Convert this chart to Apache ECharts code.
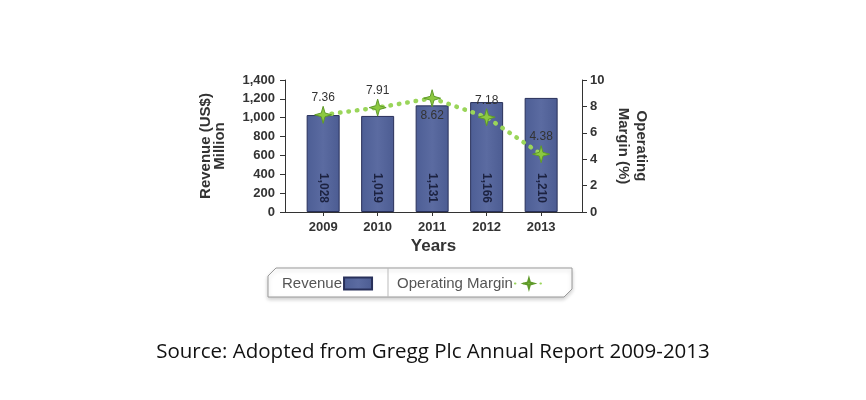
<!DOCTYPE html>
<html>
<head>
    <meta charset="utf-8">
    <title>Revenue and Operating Margin</title>
    <script src="https://cdn.jsdelivr.net/npm/echarts@6/dist/echarts.min.js"></script>
    <style>
        html, body { margin: 0; padding: 0; background: #fff; }
        #chart1 { width: 866px; height: 400px; }
    </style>
</head>
<body>
<div id="chart1"></div>
<script type="text/javascript">
    // data
    var years = [2009, 2010, 2011, 2012, 2013];
    var revenue = [1028, 1019, 1131, 1166, 1210];
    var margin = [7.36, 7.91, 8.62, 7.18, 4.38];
    // label placement of the margin values (above / below the point)
    var marginLabelPos = ['top', 'top', 'bottom', 'top', 'top'];

    var star = 'path://M0,-10 L2.2,-2.2 L10,0 L2.2,2.2 L0,10 L-2.2,2.2 L-10,0 L-2.2,-2.2 Z';
    var font = 'Liberation Sans';

    function fmt(v) {
        return String(v).replace(/\B(?=(\d{3})+(?!\d))/g, ',');
    }

    var barData = years.map(function (y, i) { return [y, revenue[i]]; });
    var lineData = years.map(function (y, i) {
        return {
            value: [y, margin[i]],
            label: { position: marginLabelPos[i] }
        };
    });

    var myChart = echarts.init(document.getElementById('chart1'));
    myChart.setOption({
        animation: false,
        textStyle: { fontFamily: font },
        grid: { left: 285, right: 284, top: 80, bottom: 188 },
        title: {
            text: 'Source: Adopted from Gregg Plc Annual Report 2009-2013',
            left: 'center',
            top: 337,
            textStyle: { fontFamily: 'Open Sans', fontSize: 20.5, fontWeight: 'normal', color: '#111' }
        },
        graphic: [
            {
                type: 'polygon',
                z: -1,
                shape: { points: [[276, 268], [572, 268], [572, 289], [564, 297], [268, 297], [268, 276]] },
                style: { fill: '#fff', stroke: '#9a9a9a', lineWidth: 1, shadowBlur: 4, shadowColor: 'rgba(0,0,0,0.2)', shadowOffsetY: 2 }
            },
            {
                type: 'line',
                z: -1,
                shape: { x1: 388, y1: 268, x2: 388, y2: 297 },
                style: { stroke: '#bbb', lineWidth: 1 }
            }
        ],
        legend: {
            left: 282,
            top: 276,
            padding: 0,
            align: 'right',
            itemGap: 24,
            itemWidth: 28,
            itemHeight: 12,
            textStyle: { fontSize: 15, color: '#555', padding: [0, -3, 0, 0] },
            data: [
                { name: 'Revenue', icon: 'rect' },
                { name: 'Operating Margin' }
            ]
        },
        xAxis: {
            type: 'value',
            min: 2008.3,
            max: 2013.75,
            name: 'Years',
            nameLocation: 'middle',
            nameGap: 26,
            nameTextStyle: { fontSize: 17, fontWeight: 'bold', color: '#333' },
            splitLine: { show: false },
            axisLine: { show: true, lineStyle: { color: '#333' } },
            axisTick: { show: true, customValues: years, length: 4, lineStyle: { color: '#333' } },
            axisLabel: {
                customValues: years,
                margin: 9,
                fontSize: 13,
                fontWeight: 'bold',
                color: '#333',
                formatter: function (v) { return String(v); }
            }
        },
        yAxis: [
            {
                type: 'value',
                min: 0,
                max: 1400,
                interval: 200,
                name: 'Revenue (US$)\nMillion',
                nameLocation: 'middle',
                nameGap: 58,
                nameRotate: 90,
                nameTextStyle: { fontSize: 15, fontWeight: 'bold', color: '#333', lineHeight: 14 },
                splitLine: { show: false },
                axisLine: { show: true, lineStyle: { color: '#333' } },
                axisTick: { show: true, length: 5, lineStyle: { color: '#333' } },
                axisLabel: {
                    margin: 10,
                    fontSize: 13,
                    fontWeight: 'bold',
                    color: '#333',
                    formatter: function (v) { return fmt(v); }
                }
            },
            {
                type: 'value',
                min: 0,
                max: 10,
                interval: 2,
                name: 'Operating\nMargin (%)',
                nameLocation: 'middle',
                nameGap: 32,
                nameRotate: -90,
                nameTextStyle: { fontSize: 15, fontWeight: 'bold', color: '#333', lineHeight: 18 },
                splitLine: { show: false },
                axisLine: { show: true, lineStyle: { color: '#333' } },
                axisTick: { show: true, length: 5, lineStyle: { color: '#333' } },
                axisLabel: { margin: 8, fontSize: 13, fontWeight: 'bold', color: '#333' }
            }
        ],
        series: [
            {
                name: 'Revenue',
                type: 'bar',
                barWidth: 33,
                data: barData,
                itemStyle: {
                    color: new echarts.graphic.LinearGradient(0, 0, 1, 0, [
                        { offset: 0, color: '#4d5e95' },
                        { offset: 0.5, color: '#5b6ba1' },
                        { offset: 1, color: '#4c5c92' }
                    ]),
                    borderColor: '#28305a',
                    borderWidth: 1
                },
                label: {
                    show: true,
                    position: ['50%', '100%'],
                    rotate: -90,
                    align: 'right',
                    verticalAlign: 'middle',
                    offset: [-9, 0],
                    fontSize: 12,
                    fontWeight: 'bold',
                    color: '#1c2240',
                    formatter: function (p) { return fmt(p.value[1]); }
                }
            },
            {
                name: 'Operating Margin',
                type: 'line',
                yAxisIndex: 1,
                data: lineData,
                symbol: star,
                symbolSize: 17,
                lineStyle: { color: '#9ad55a', width: 4.5, type: [0.5, 8], cap: 'round' },
                itemStyle: { color: '#8cc940', borderColor: '#5f9a2a', borderWidth: 1 },
                label: {
                    show: true,
                    distance: 2,
                    fontSize: 12,
                    color: '#333',
                    formatter: function (p) { return p.value[1].toFixed(2); }
                }
            }
        ]
    });
</script>
</body>
</html>
